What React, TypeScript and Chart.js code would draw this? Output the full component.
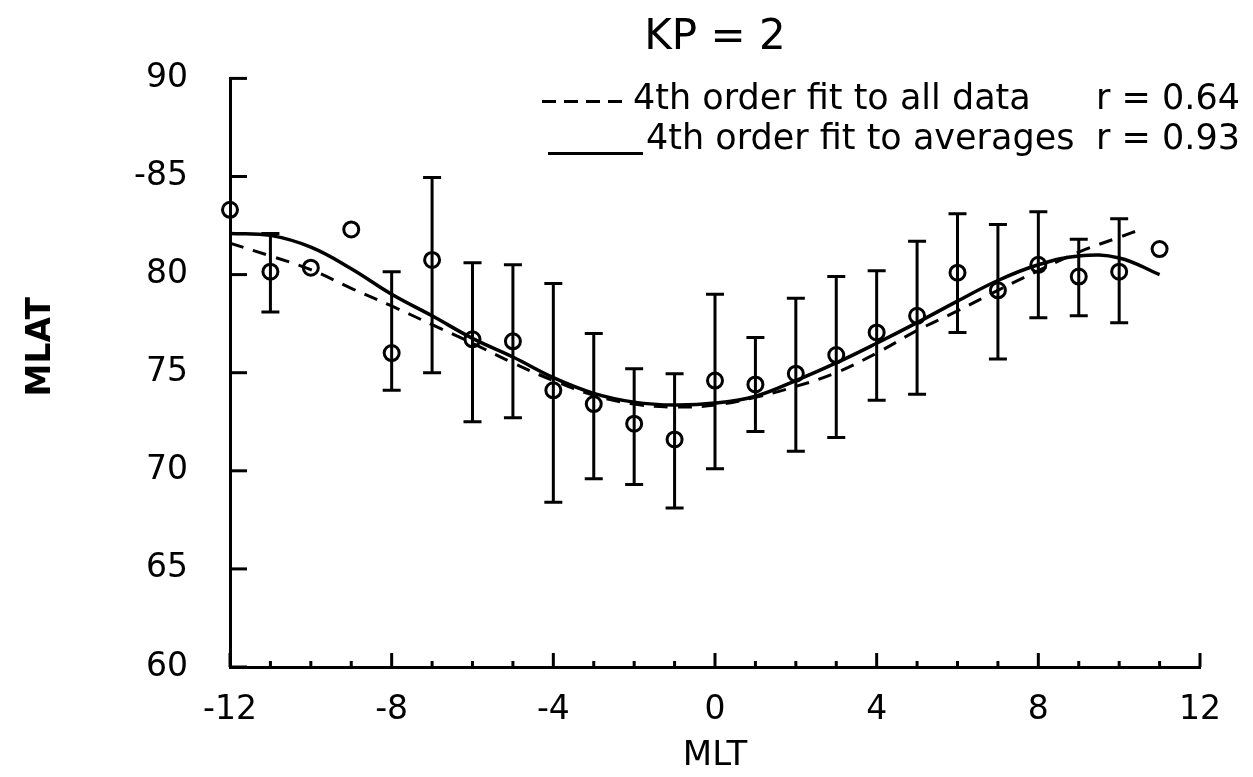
import React, { useEffect, useRef } from 'react';
import { Chart, registerables } from 'chart.js';

Chart.register(...registerables);

// ---- data ----
const titleText = 'KP = 2';
const xAxisTitle = 'MLT';
const yAxisTitle = 'MLAT';

const mltHours = [-12, -11, -10, -9, -8, -7, -6, -5, -4, -3, -2, -1, 0, 1, 2, 3, 4, 5, 6, 7, 8, 9, 10, 11];
const mlatMean = [83.3, 80.15, 80.35, 82.3, 76.0, 80.75, 76.7, 76.6, 74.1, 73.4, 72.4, 71.6, 74.6, 74.4, 74.95, 75.9, 77.05, 77.9, 80.1, 79.2, 80.5, 79.9, 80.15, 81.3];
const errHigh = [null, 82.1, null, null, 80.15, 84.95, 80.6, 80.5, 79.55, 77.0, 75.2, 74.95, 79.0, 76.8, 78.8, 79.9, 80.2, 81.7, 83.1, 82.55, 83.2, 81.8, 82.85, null];
const errLow = [null, 78.1, null, null, 74.1, 75.0, 72.5, 72.7, 68.4, 69.6, 69.3, 68.1, 70.1, 72.0, 71.0, 71.7, 73.6, 73.9, 77.05, 75.7, 77.8, 77.9, 77.55, null];

const fitAvgX = [-12, -11, -10, -9, -8, -7, -6, -5, -4, -3, -2, -1, 0, 1, 2, 3, 4, 5, 6, 7, 8, 9, 10, 11];
const fitAvgY = [82.1, 82.0, 81.4, 80.3, 79.0, 77.9, 76.75, 75.8, 74.75, 73.95, 73.5, 73.35, 73.45, 73.8, 74.6, 75.5, 76.5, 77.55, 78.65, 79.7, 80.5, 80.95, 80.85, 80.0];

const fitAllX = [-12, -11, -10, -9, -8, -7, -6, -5, -4, -3, -2, -1, 0, 1, 2, 3, 4, 5, 6, 7, 8, 9, 10, 10.6];
const fitAllY = [81.6, 80.95, 80.25, 79.3, 78.4, 77.45, 76.5, 75.5, 74.6, 73.85, 73.4, 73.25, 73.35, 73.75, 74.3, 75.0, 76.0, 77.15, 78.15, 79.2, 80.2, 81.15, 81.9, 82.35];

const xTickValues = [-12, -8, -4, 0, 4, 8, 12];
const xTickLabels = ['-12', '-8', '-4', '0', '4', '8', '12'];
const yTickValues = [60, 65, 70, 75, 80, 85, 90];
const yTickLabels = ['60', '65', '70', '75', '80', '-85', '90'];

const legendLabels = ['4th order fit to all data', '4th order fit to averages'];
const legendR = ['r = 0.64', 'r = 0.93'];

const FONT = '"DejaVu Sans", sans-serif';

const inwardTicks = {
  id: 'inwardTicks',
  afterDatasetsDraw(chart: any) {
    const { ctx, chartArea } = chart;
    const x = chart.scales.x;
    const y = chart.scales.y;
    ctx.save();
    ctx.strokeStyle = '#000';
    ctx.lineWidth = 3;
    x.ticks.forEach((t: any) => {
      const px = x.getPixelForValue(t.value);
      const len = xTickValues.includes(t.value) ? 14 : 6;
      ctx.beginPath();
      ctx.moveTo(px, chartArea.bottom);
      ctx.lineTo(px, chartArea.bottom - len);
      ctx.stroke();
    });
    y.ticks.forEach((t: any) => {
      const py = y.getPixelForValue(t.value);
      ctx.beginPath();
      ctx.moveTo(chartArea.left, py);
      ctx.lineTo(chartArea.left + 17, py);
      ctx.stroke();
    });
    ctx.restore();
  },
};

const errorBars = {
  id: 'errorBars',
  afterDatasetsDraw(chart: any) {
    const { ctx } = chart;
    const x = chart.scales.x;
    const y = chart.scales.y;
    ctx.save();
    ctx.strokeStyle = '#000';
    ctx.lineWidth = 3;
    mltHours.forEach((h, i) => {
      const lo = errLow[i];
      const hi = errHigh[i];
      if (lo == null || hi == null) return;
      const px = x.getPixelForValue(h);
      const pLo = y.getPixelForValue(lo);
      const pHi = y.getPixelForValue(hi);
      ctx.beginPath();
      ctx.moveTo(px, pHi);
      ctx.lineTo(px, pLo);
      ctx.moveTo(px - 9, pHi);
      ctx.lineTo(px + 9, pHi);
      ctx.moveTo(px - 9, pLo);
      ctx.lineTo(px + 9, pLo);
      ctx.stroke();
    });
    ctx.restore();
  },
};

const textOverlay = {
  id: 'textOverlay',
  afterDraw(chart: any) {
    const { ctx, chartArea } = chart;
    const right = chartArea.right + 40;
    const y1 = chartArea.top + 22;
    const y2 = chartArea.top + 62;
    ctx.save();
    ctx.fillStyle = '#000';
    ctx.strokeStyle = '#000';
    ctx.lineWidth = 3;
    ctx.font = `35px ${FONT}`;
    ctx.textBaseline = 'middle';
    // dashed sample
    ctx.setLineDash([14, 8]);
    ctx.beginPath();
    ctx.moveTo(chartArea.left + 312, y1 + 1);
    ctx.lineTo(chartArea.left + 395, y1 + 1);
    ctx.stroke();
    ctx.setLineDash([]);
    ctx.textAlign = 'left';
    ctx.fillText(legendLabels[0], chartArea.left + 403, y1);
    ctx.textAlign = 'right';
    ctx.fillText(legendR[0], right, y1);
    // solid sample
    ctx.beginPath();
    ctx.moveTo(chartArea.left + 318, y2 + 13);
    ctx.lineTo(chartArea.left + 413, y2 + 13);
    ctx.stroke();
    ctx.textAlign = 'left';
    ctx.fillText(legendLabels[1], chartArea.left + 416, y2);
    ctx.textAlign = 'right';
    ctx.fillText(legendR[1], right, y2);
    // y axis title (sits a little above centre in the reference)
    ctx.translate(chartArea.left - 189, (chartArea.top + chartArea.bottom) / 2 - 26);
    ctx.rotate(-Math.PI / 2);
    ctx.textAlign = 'center';
    ctx.font = `bold 33px ${FONT}`;
    ctx.fillText(yAxisTitle, 0, 0);
    ctx.restore();
  },
};

export default function App() {
  const ref = useRef<HTMLCanvasElement>(null);

  useEffect(() => {
    if (!ref.current) return;
    const chart = new Chart(ref.current, {
      type: 'line',
      data: {
        datasets: [
          {
            label: 'averages',
            data: mltHours.map((h, i) => ({ x: h, y: mlatMean[i] })),
            showLine: false,
            pointStyle: 'circle',
            pointRadius: 7.5,
            pointBorderWidth: 3,
            pointBorderColor: '#000',
            pointBackgroundColor: 'rgba(0,0,0,0)',
            borderColor: '#000',
            clip: false,
          } as any,
          {
            label: 'fit to averages',
            data: fitAvgX.map((h, i) => ({ x: h, y: fitAvgY[i] })),
            borderColor: '#000',
            borderWidth: 3.5,
            pointRadius: 0,
            tension: 0.4,
            fill: false,
          },
          {
            label: 'fit to all data',
            data: fitAllX.map((h, i) => ({ x: h, y: fitAllY[i] })),
            borderColor: '#000',
            borderWidth: 3,
            borderDash: [14, 10],
            pointRadius: 0,
            tension: 0.4,
            fill: false,
          },
        ],
      },
      options: {
        animation: false,
        responsive: true,
        maintainAspectRatio: false,
        devicePixelRatio: 1,
        layout: { padding: { left: 0, right: 53, top: 0, bottom: 0 } },
        plugins: {
          legend: { display: false },
          tooltip: { enabled: false },
          title: {
            display: true,
            text: titleText,
            color: '#000',
            font: { family: FONT, size: 42, weight: 'normal' },
            padding: { top: 13, bottom: 15 },
            fullSize: false,
          },
        },
        scales: {
          x: {
            type: 'linear',
            min: -12,
            max: 12,
            grid: { display: false, drawTicks: false },
            border: { display: true, color: '#000', width: 3 },
            ticks: {
              stepSize: 1,
              autoSkip: false,
              maxRotation: 0,
              padding: 24,
              color: '#000',
              font: { family: FONT, size: 33 },
              callback: (v: any) => {
                const k = xTickValues.indexOf(Number(v));
                return k >= 0 ? xTickLabels[k] : '';
              },
            },
            title: {
              display: true,
              text: xAxisTitle,
              color: '#000',
              font: { family: FONT, size: 34 },
              padding: { top: 0, bottom: 0 },
            },
            afterFit: (s: any) => {
              s.height = 110;
            },
          },
          y: {
            type: 'linear',
            min: 60,
            max: 90,
            grid: { display: false, drawTicks: false },
            border: { display: true, color: '#000', width: 3 },
            ticks: {
              stepSize: 5,
              padding: 42,
              color: '#000',
              font: { family: FONT, size: 33 },
              callback: (v: any) => {
                const k = yTickValues.indexOf(Number(v));
                return k >= 0 ? yTickLabels[k] : '';
              },
            },
            title: { display: false, text: yAxisTitle },
            afterFit: (s: any) => {
              s.width = 230;
            },
          },
        },
      },
      plugins: [errorBars, inwardTicks, textOverlay],
    });
    return () => chart.destroy();
  }, []);

  return (
    <div style={{ position: 'absolute', left: 0, top: 0, width: 1253, height: 777, background: '#fff' }}>
      <canvas ref={ref} />
    </div>
  );
}
